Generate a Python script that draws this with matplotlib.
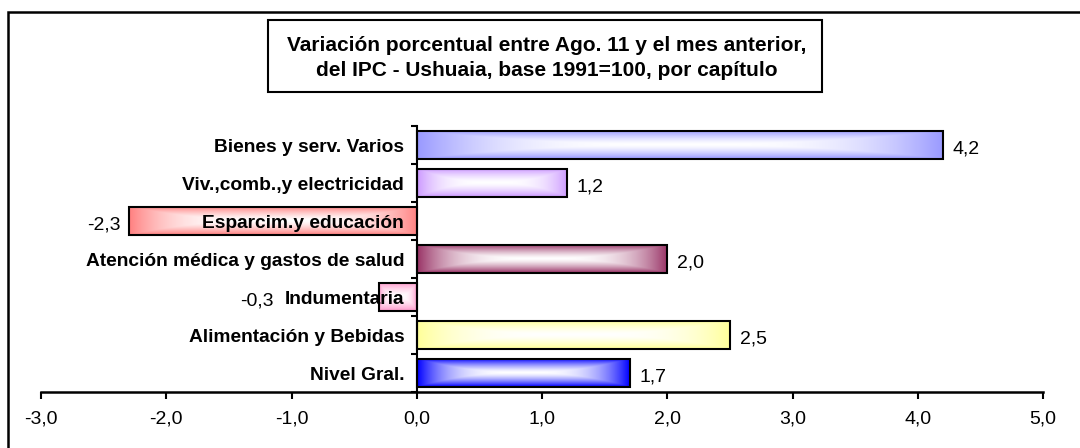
import numpy as np
import matplotlib
matplotlib.use("Agg")
import matplotlib.pyplot as plt
from matplotlib.patches import Rectangle
from matplotlib.colors import to_rgb

plt.rcParams['font.family'] = ['Liberation Sans', 'DejaVu Sans']

# ---- data (top to bottom as in the reference) ----
categories = ["Bienes y serv. Varios", "Viv.,comb.,y electricidad", "Esparcim.y educación",
              "Atención médica y gastos de salud", "Indumentaria", "Alimentación y Bebidas",
              "Nivel Gral."]
values = [4.2, 1.2, -2.3, 2.0, -0.3, 2.5, 1.7]
value_labels = ["4,2", "1,2", "-2,3", "2,0", "-0,3", "2,5", "1,7"]
colors = ["#9999FF", "#CC99FF", "#FF8080", "#993366", "#FF99CC", "#FFFF99", "#0000FF"]
xticks = [-3, -2, -1, 0, 1, 2, 3, 4, 5]
xtick_labels = ["-3,0", "-2,0", "-1,0", "0,0", "1,0", "2,0", "3,0", "4,0", "5,0"]
title = "Variación porcentual entre Ago. 11 y el mes anterior,\ndel IPC - Ushuaia, base 1991=100, por capítulo"

W, H = 1080, 448
fig = plt.figure(figsize=(W / 100, H / 100), dpi=100)
fig.patch.set_facecolor("white")

ax = fig.add_axes([41 / W, (H - 392) / H, (1043 - 41) / W, (392 - 126) / H])
n = len(categories)
ypos = np.arange(n)[::-1]  # first category at top
bh = 0.76

# gradient fill images
ny, nx = 40, 300
u = np.linspace(-1, 1, nx)[None, :]
v = np.linspace(-1, 1, ny)[:, None]
t = np.maximum(np.abs(u) ** 3.0, np.abs(v) ** 1.4)
t = np.clip(t, 0, 1)
for y, val, c in zip(ypos, values, colors):
    rgb = np.array(to_rgb(c))
    img = (1 - t[..., None]) * np.array([1, 1, 1]) + t[..., None] * rgb
    ax.imshow(img, extent=(min(0, val), max(0, val), y - bh / 2, y + bh / 2),
              aspect='auto', origin='lower', interpolation='bilinear', zorder=1)
ax.barh(ypos, values, height=bh, facecolor='none', edgecolor='black', linewidth=1.5, zorder=2)

ax.set_xlim(-3, 5)
ax.set_ylim(-0.5, n - 0.5)

# spines
for s in ['top', 'right']:
    ax.spines[s].set_visible(False)
ax.spines['left'].set_position(('data', 0))
ax.spines['left'].set_linewidth(1.5)
ax.spines['bottom'].set_linewidth(1.8)

ax.set_xticks(xticks)
ax.set_xticklabels(xtick_labels, fontsize=14)
ax.tick_params(axis='x', direction='out', length=5, width=1.5, pad=8)

ax.set_yticks(ypos)
ax.set_yticklabels(categories, fontsize=13.8, fontweight='bold')
ax.set_yticks(np.arange(n + 1) - 0.5, minor=True)
ax.tick_params(axis='y', which='major', length=0, pad=9)
ax.tick_params(axis='y', which='minor', direction='out', length=4, width=1.5)
for lbl in ax.get_yticklabels():
    lbl.set_zorder(5)
ax.patch.set_visible(False)

# value labels (negative labels avoid the category label, as in the reference)
fig.canvas.draw()
renderer = fig.canvas.get_renderer()
inv = ax.transData.inverted()
ticklbls = ax.get_yticklabels()
for y, val, lab, tl in zip(ypos, values, value_labels, ticklbls):
    if val >= 0:
        ax.annotate(lab, (val, y), xytext=(7, -3), textcoords='offset points',
                    ha='left', va='center', fontsize=14)
    else:
        bb = tl.get_window_extent(renderer)
        end_px = ax.transData.transform((val, y))[0]
        if end_px > bb.x0 - 4:
            xa = inv.transform((bb.x0, 0))[0]
            ax.annotate(lab, (xa, y), xytext=(-8, -3), textcoords='offset points',
                        ha='right', va='center', fontsize=14)
        else:
            ax.annotate(lab, (val, y), xytext=(-6, -3), textcoords='offset points',
                        ha='right', va='center', fontsize=14)

# title box
fig.add_artist(Rectangle((268 / W, (H - 92) / H), (822 - 268) / W, (92 - 20) / H,
                         transform=fig.transFigure, facecolor='white', edgecolor='black',
                         linewidth=1.5))
fig.text(547 / W, (H - 58) / H, title, ha='center', va='center', fontsize=15,
         fontweight='bold', linespacing=1.4)

# outer chart border
fig.add_artist(Rectangle((8 / W, -0.2), 1.2, 1.2 - 12 / H, transform=fig.transFigure,
                         facecolor='none', edgecolor='black', linewidth=1.8, clip_on=False))

fig.savefig("out.png", dpi=100)
